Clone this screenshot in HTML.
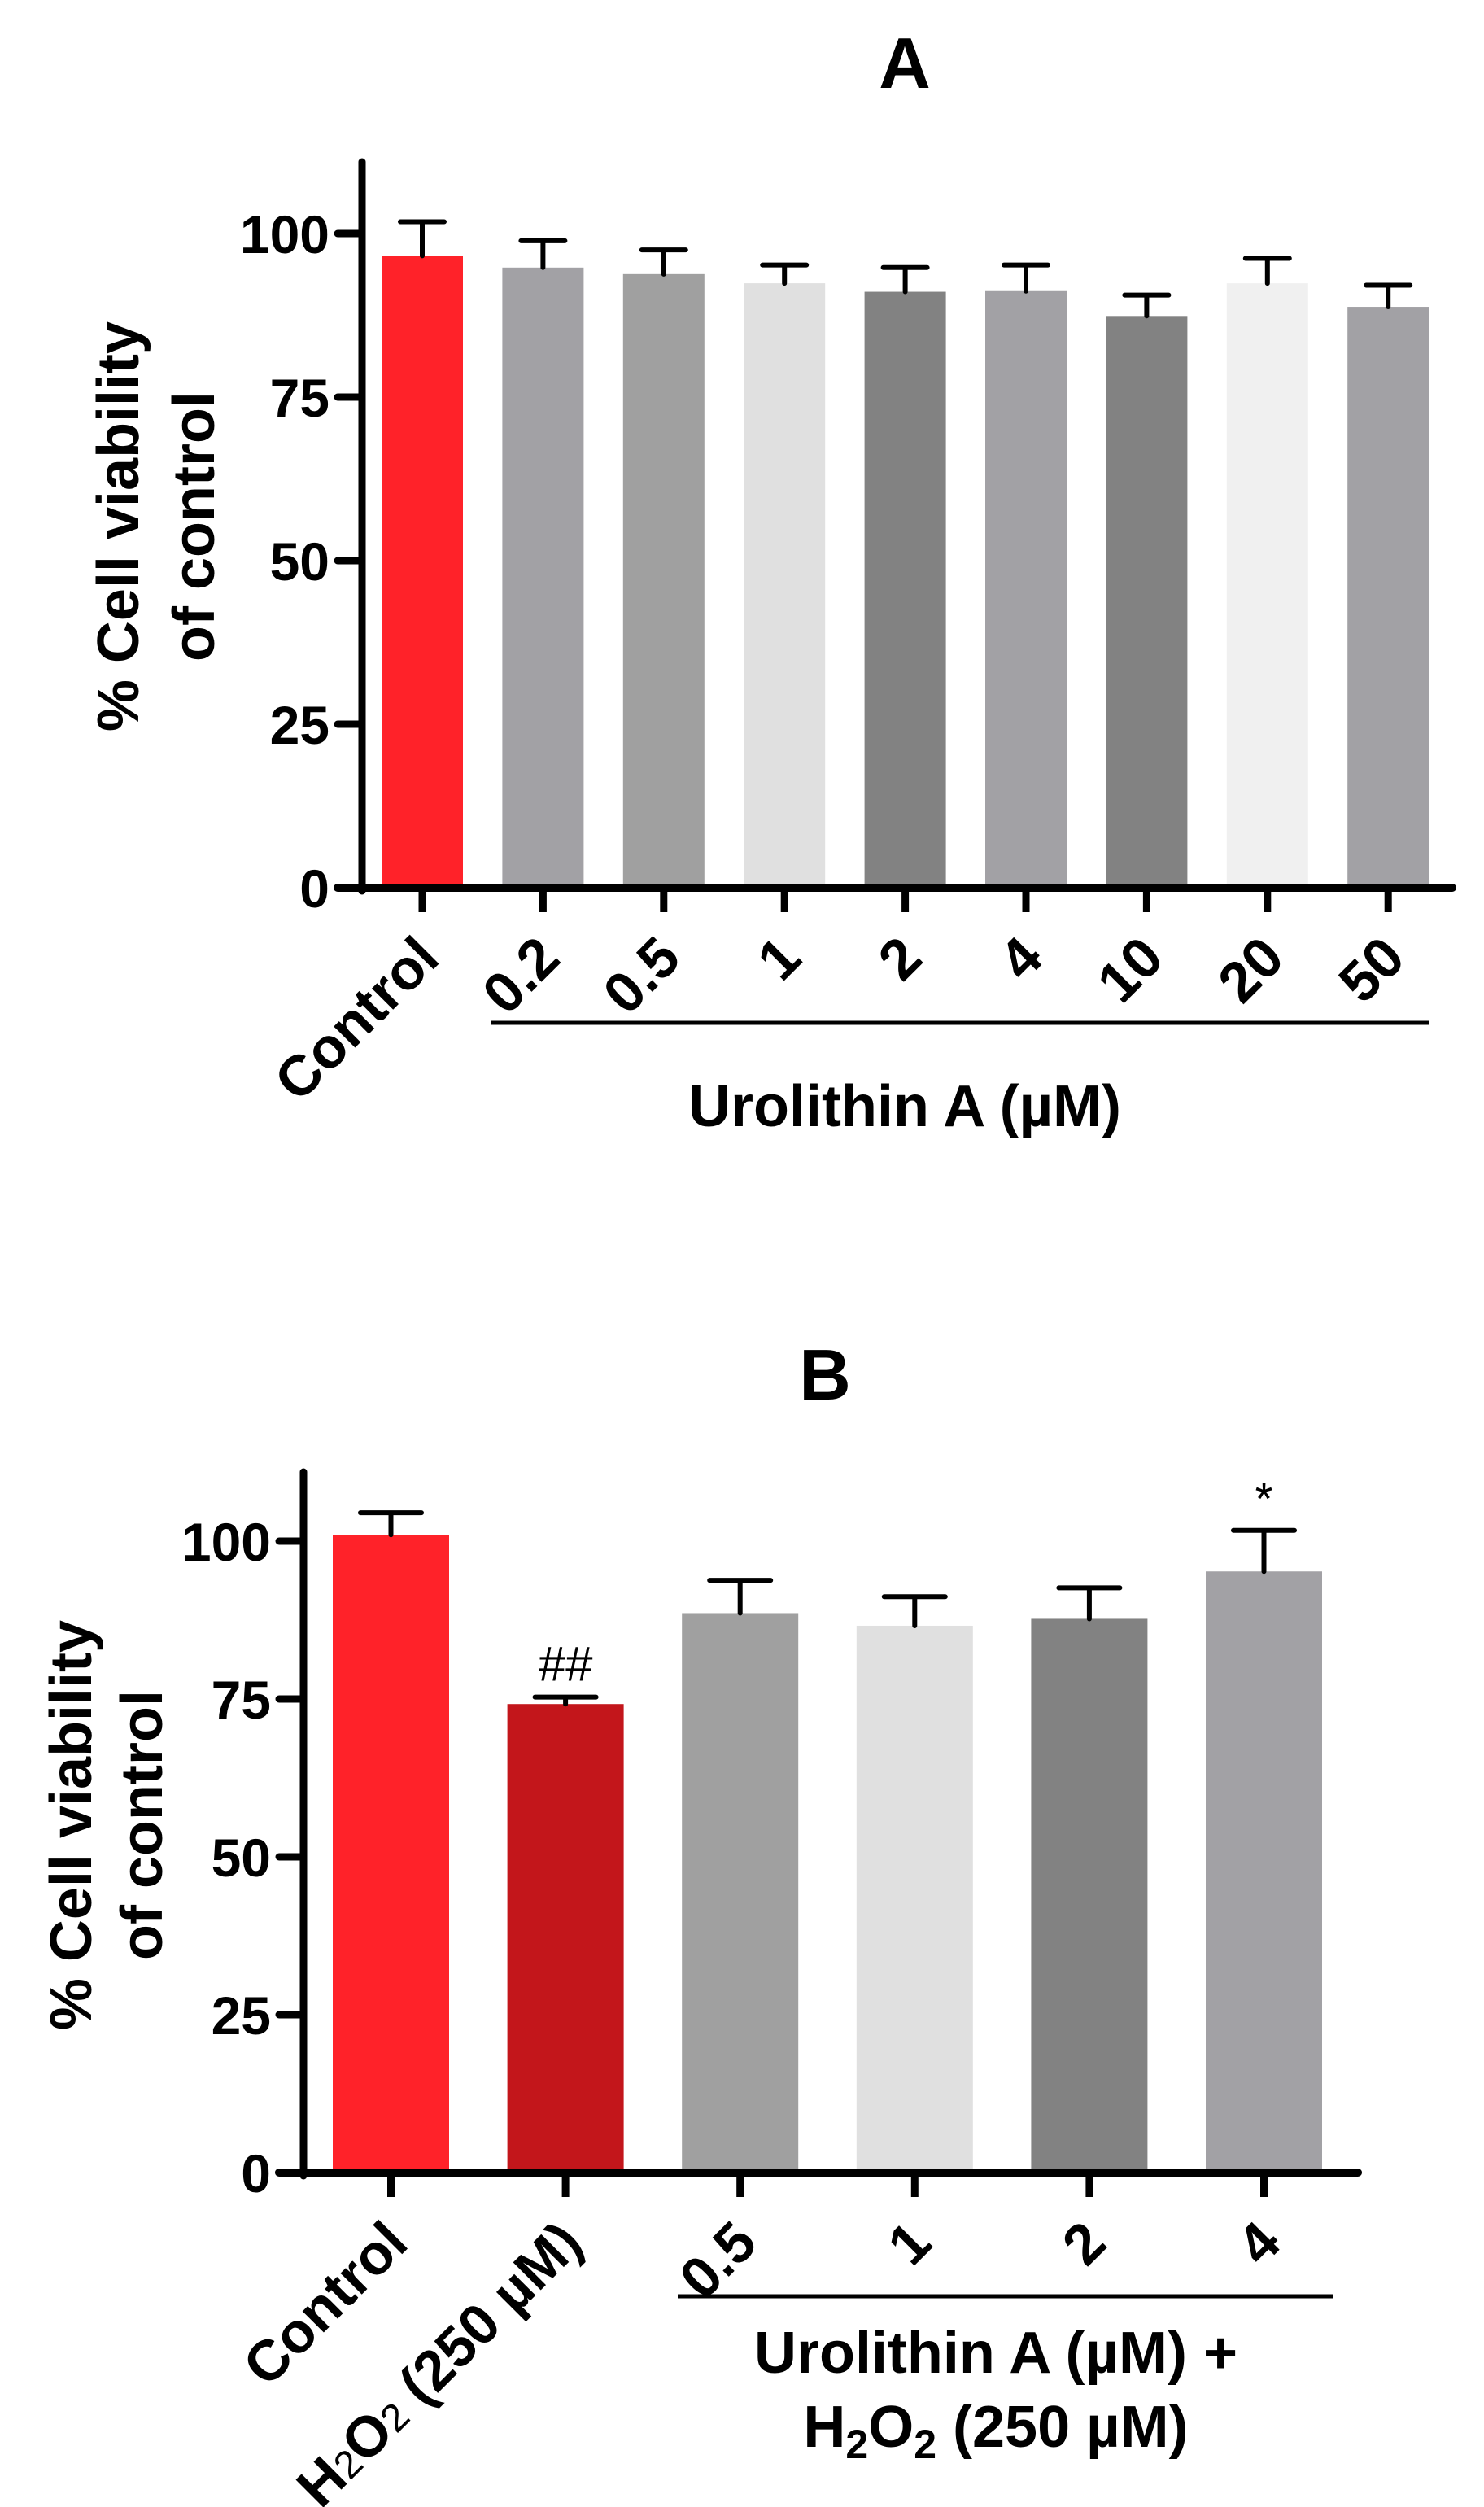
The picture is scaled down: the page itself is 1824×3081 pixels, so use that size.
<!DOCTYPE html>
<html><head><meta charset="utf-8"><style>
html,body{margin:0;padding:0;background:#fff;}
svg{display:block;font-family:"Liberation Sans",Arial,sans-serif;font-weight:bold;}
</style></head><body>
<svg id="chart" width="1824" height="3081" viewBox="0 0 1824 3081" xmlns="http://www.w3.org/2000/svg">
<text x="1112" y="108" font-size="88" text-anchor="middle">A</text>
<text x="1014" y="1720" font-size="88" text-anchor="middle">B</text>
<g font-size="72" text-anchor="middle">
<text transform="translate(145,647) rotate(-90)" dy="25">% Cell viability</text>
<text transform="translate(238,647) rotate(-90)" dy="25">of control</text>
</g>
<g font-size="72" text-anchor="middle">
<text transform="translate(87,2243) rotate(-90)" dy="25">% Cell viability</text>
<text transform="translate(174,2243) rotate(-90)" dy="25">of control</text>
</g>
<line x1="604" y1="1257" x2="1757" y2="1257" stroke="#000" stroke-width="5"/>
<text x="1112" y="1384" font-size="72" text-anchor="middle">Urolithin A (µM)</text>
<line x1="833" y1="2822" x2="1638" y2="2822" stroke="#000" stroke-width="5"/>
<text x="1224" y="2916" font-size="72" text-anchor="middle">Urolithin A (µM) +</text>
<text x="1224" y="3007" font-size="72" text-anchor="middle">H<tspan font-size="50" dy="14">2</tspan><tspan dy="-14">O</tspan><tspan font-size="50" dy="14">2</tspan><tspan dy="-14"> (250 µM)</tspan></text>
<g id="pa"></g>
<g id="pb"></g>
</svg>
<script>
const catsA = ["Control","0.2","0.5","1","2","4","10","20","50"];
const valsA = [96.6,94.8,93.8,92.4,91.1,91.2,87.4,92.4,88.8];
const errA = [5.2,4.1,3.7,2.8,3.7,4.0,3.2,3.8,3.3];
const colorsA = ["#ff2229","#a2a1a5","#a0a0a0","#e0e0e0","#828282","#a2a1a5","#828282","#f0f0f0","#a2a1a5"];
const catsB = ["Control","H2O2 (250 µM)","0.5","1","2","4"];
const valsB = [101.0,74.2,88.6,86.6,87.7,95.2];
const errB = [3.5,1.1,5.2,4.6,4.9,6.5];
const colorsB = ["#ff2229","#c3161b","#a0a0a0","#e0e0e0","#828282","#a2a1a5"];
const marksB = ["","##","","","","*"];
const ticks = [0,25,50,75,100];
const NS = "http://www.w3.org/2000/svg";
function mk(parent, tag, attrs){const e=document.createElementNS(NS,tag);for(const k in attrs)e.setAttribute(k,attrs[k]);parent.appendChild(e);return e;}
function draw(gid, cfg, cats, vals, errs, colors, marks){
  const g=document.getElementById(gid);
  const y=v=>cfg.y0-v*cfg.k;
  const cx=i=>cfg.x0+cfg.off+i*cfg.step+cfg.bw/2;
  cats.forEach((c,i)=>{
    const r=mk(g,'rect',{x:cx(i)-cfg.bw/2,y:y(vals[i]),width:cfg.bw,height:cfg.y0-y(vals[i]),fill:colors[i]});
    
    
    const e=mk(g,'path',{d:`M${cx(i)} ${y(vals[i])}V${y(vals[i]+errs[i])}M${cx(i)-cfg.cap/2} ${y(vals[i]+errs[i])}H${cx(i)+cfg.cap/2}`,stroke:'#000','stroke-width':6,fill:'none','stroke-linecap':'round'});
    
    
    const t=mk(g,'line',{x1:cx(i),y1:cfg.y0,x2:cx(i),y2:cfg.y0+30,stroke:'#000','stroke-width':9});
    
    
    const ax=cx(i)+24, ay=cfg.y0+90;
    const l=mk(g,'text',{x:ax,y:ay,'font-size':70,'text-anchor':'end',transform:`rotate(-45 ${ax} ${ay})`});
    
    
    if(c.startsWith('H2O2')){l.innerHTML='H<tspan font-size="48" font-weight="normal">2</tspan>O<tspan font-size="48" font-weight="normal">2</tspan> (250 µM)';}
    else l.textContent=c;
    if(marks&&marks[i]){
      const m=mk(g,'text',{x:cx(i),y:y(vals[i]+errs[i])-20,'font-size':marks[i]=='*'?56:60,'font-weight':'normal','text-anchor':'middle'});
      
      
      m.textContent=marks[i];
    }
  });
  ticks.forEach(v=>{
    const t=mk(g,'line',{x1:cfg.x0-30,y1:y(v),x2:cfg.x0,y2:y(v),stroke:'#000','stroke-width':9,'stroke-linecap':'round'});
    
    
    const l=mk(g,'text',{x:cfg.x0-40,y:y(v)+24,'font-size':66,'text-anchor':'end'});
    
    
    l.textContent=v;
  });
  const ya=mk(g,'line',{x1:cfg.x0,y1:cfg.top,x2:cfg.x0,y2:cfg.y0+4,stroke:'#000','stroke-width':9,'stroke-linecap':'round'});
  
  
  const xa=mk(g,'line',{x1:cfg.x0-30,y1:cfg.y0,x2:cfg.xend,y2:cfg.y0,stroke:'#000','stroke-width':10,'stroke-linecap':'round'});
  
  
}
draw('pa',{p:'a',x0:445,top:199,y0:1091,k:8.04,off:24,step:148.4,bw:100,cap:54,xend:1785},catsA,valsA,errA,colorsA,null);
draw('pb',{p:'b',x0:373,top:1809,y0:2670,k:7.76,off:36,step:214.6,bw:143,cap:75,xend:1669},catsB,valsB,errB,colorsB,marksB);
</script>
</body></html>
